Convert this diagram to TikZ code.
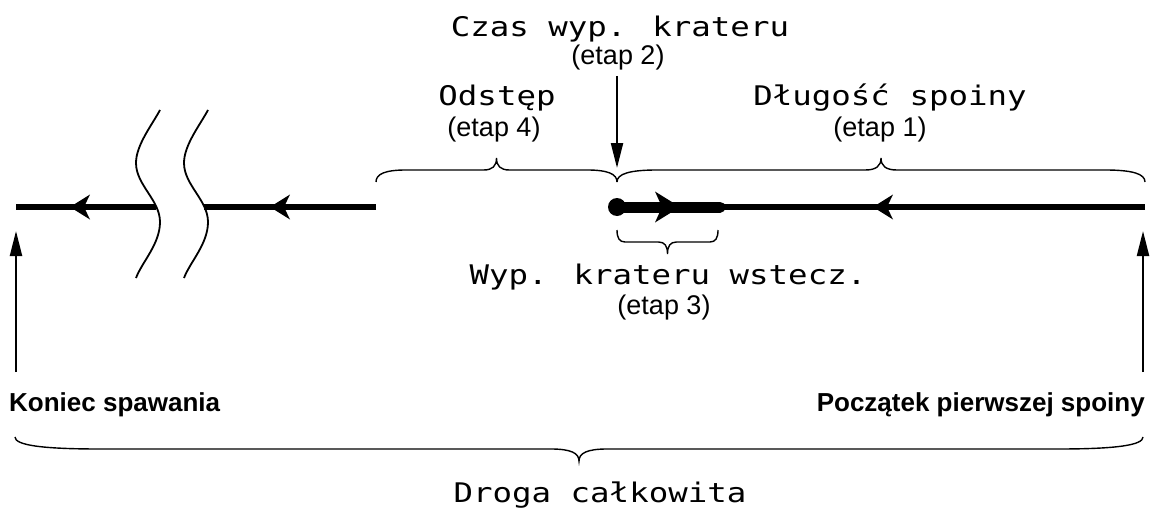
\documentclass[tikz,border=0pt]{standalone}
\usepackage{fontspec}
\setmainfont{Liberation Sans}
\newfontfamily\pixfont[FakeStretch=1.2]{DejaVu Sans Mono}
\usetikzlibrary{arrows.meta,decorations.markings}

% horizontal curly brace: #1 left x, #2 right x, #3 y of the ends,
% #4 +1 = tip up / -1 = tip down, #5 end curl length, #6 tip curl half-width
\newcommand\curlybrace[6]{%
  \pgfmathsetmacro\bxm{(#1+#2)/2}%
  \pgfmathsetmacro\bya{#3-(#4)*8}%
  \pgfmathsetmacro\byb{#3-(#4)*12}%
  \pgfmathsetmacro\byc{#3-(#4)*16}%
  \pgfmathsetmacro\byd{#3-(#4)*24}%
  \pgfmathsetmacro\bxa{#1+#5*0.3}%
  \pgfmathsetmacro\bxb{#1+#5}%
  \pgfmathsetmacro\bxc{\bxm-#6}%
  \pgfmathsetmacro\bxd{\bxm-#6*0.3}%
  \pgfmathsetmacro\bxe{\bxm+#6*0.3}%
  \pgfmathsetmacro\bxf{\bxm+#6}%
  \pgfmathsetmacro\bxg{#2-#5}%
  \pgfmathsetmacro\bxh{#2-#5*0.3}%
  \draw[brace] (#1,#3) .. controls (#1,\bya) and (\bxa,\byb) .. (\bxb,\byb)
    -- (\bxc,\byb) .. controls (\bxd,\byb) and (\bxm,\byc) .. (\bxm,\byd)
    .. controls (\bxm,\byc) and (\bxe,\byb) .. (\bxf,\byb)
    -- (\bxg,\byb) .. controls (\bxh,\byb) and (#2,\bya) .. (#2,#3);
}

\tikzset{
  pix/.style={font=\pixfont\fontsize{27}{27}\selectfont, inner sep=0pt, anchor=base},
  etap/.style={font=\fontsize{27}{27}\selectfont, inner sep=0pt, anchor=base},
  endlabel/.style={font=\bfseries\fontsize{26}{26}\selectfont, inner sep=0pt},
  track/.style={line width=6pt},
  weld/.style={line width=11pt, line cap=round},
  brace/.style={line width=1.4pt},
  wave/.style={line width=1.8pt},
  pointer/.style={line width=2.2pt, -{Triangle[length=25pt,width=12pt]}},
  dirmark/.style={postaction={decorate}, decoration={markings,
      mark=at position #1 with {\arrow{Stealth[length=20pt,width=25pt,inset=6pt,line width=0pt]}}}},
  weldmark/.style={postaction={decorate}, decoration={markings,
      mark=at position #1 with {\arrow{Stealth[length=25pt,width=31pt,inset=7pt,line width=0pt]}}}},
}

\begin{document}
\begin{tikzpicture}[x=1pt,y=-1pt]
  \useasboundingbox (0,0) rectangle (1150,508);

  % points along the torch path
  \coordinate (Lend)    at (16,207);
  \coordinate (Lbreak1) at (156,207);
  \coordinate (Lbreak2) at (204,207);
  \coordinate (Gap)     at (376,207);
  \node[circle, fill=black, minimum size=18pt, inner sep=0pt] (dot) at (617,207) {};
  \coordinate (Cend)    at (720,207);
  \coordinate (Rstart)  at (1145,207);

  % torch path
  \draw[track, dirmark=86pt] (Lbreak1) -- (Lend);
  \draw[track, dirmark=106pt] (Gap) -- (Lbreak2);
  \draw[track, dirmark=272pt] (Rstart) -- (Cend);
  \draw[weld, weldmark=63pt] (dot.center) -- (Cend);

  % break marks
  \foreach \dx in {0,48} {
    \draw[wave, xshift=\dx pt] (160,110) .. controls (152,125) and (136,145) .. (136,163)
      .. controls (136,185) and (160,200) .. (160,222)
      .. controls (160,244) and (142,262) .. (136,278);
  }

  % braces
  \curlybrace{376}{617}{182}{1}{30}{13}
  \curlybrace{617}{1145}{182}{1}{40}{16}
  \curlybrace{617}{718}{230}{-1}{8}{9}
  \curlybrace{15}{1143}{437}{-1}{85}{28}

  % pointers
  \coordinate (Ttop) at (617,76);
  \coordinate (Ttip) at (617,168);
  \draw[pointer] (Ttop) -- (Ttip);
  \coordinate (Lfoot) at (16,372);
  \coordinate (Ltip)  at (16,231);
  \draw[pointer] (Lfoot) -- (Ltip);
  \coordinate (Rfoot) at (1143,372);
  \coordinate (Rtip)  at (1143,231);
  \draw[pointer] (Rfoot) -- (Rtip);

  % labels
  \node[pix]  (czas)   at (620,37)  {Czas wyp. krateru};
  \node[etap] (etap2)  at (618,65)  {(etap 2)};
  \node[pix]  (odstep) at (497,106) {Odstęp};
  \node[etap] (etap4)  at (494,136) {(etap 4)};
  \node[pix]  (dlug)   at (890,106) {Długość spoiny};
  \node[etap] (etap1)  at (880,136) {(etap 1)};
  \node[pix]  (wyp)    at (668,284) {Wyp. krateru wstecz.};
  \node[etap] (etap3)  at (664,314) {(etap 3)};
  \node[endlabel, anchor=base west] (koniec) at (9,411) {Koniec spawania};
  \node[endlabel, anchor=base east] (poczatek) at (1145,411) {Początek pierwszej spoiny};
  \node[pix]  (droga)  at (600,502) {Droga całkowita};
\end{tikzpicture}
\end{document}
